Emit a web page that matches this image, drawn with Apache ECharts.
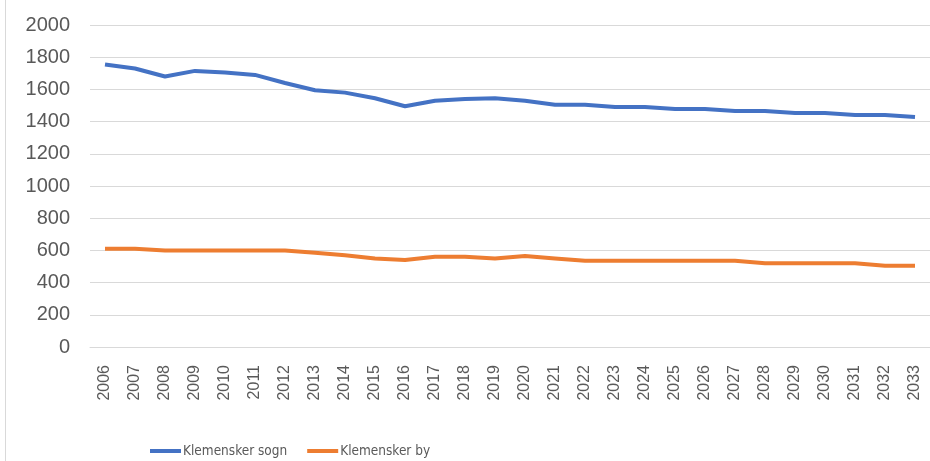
<!DOCTYPE html>
<html>
<head>
<meta charset="utf-8">
<script src="https://cdn.jsdelivr.net/npm/echarts@6/dist/echarts.min.js"></script>
<style>
  html, body { margin: 0; padding: 0; background: #fff; }
  #main { width: 930px; height: 461px; }
</style>
</head>
<body>
<div id="main"></div>
<script>
// data
var years = ['2006','2007','2008','2009','2010','2011','2012','2013','2014','2015',
    '2016','2017','2018','2019','2020','2021','2022','2023','2024','2025',
    '2026','2027','2028','2029','2030','2031','2032','2033'];
var sogn = [1755,1730,1680,1715,1705,1690,1640,1595,1580,1545,
    1495,1530,1540,1545,1530,1505,1505,1490,1490,1478,
    1478,1466,1466,1453,1453,1441,1441,1428];
var by = [610,610,600,600,600,600,600,585,570,550,
    540,560,560,550,565,550,535,535,535,535,
    535,535,520,520,520,520,505,505];

var fontName = "'Liberation Sans', sans-serif";
var txtColor = '#595959';

var myChart = echarts.init(document.getElementById('main'));
var option = {
    animation: false,
    backgroundColor: '#fff',
    textStyle: { fontFamily: fontName },
    graphic: [{
        type: 'line',
        shape: { x1: 5.5, y1: 0, x2: 5.5, y2: 461 },
        style: { stroke: '#d9d9d9', lineWidth: 1 }
    }],
    grid: { left: 90, top: 25, width: 845, bottom: 114 },
    legend: {
        top: 439,
        left: 145,
        icon: 'rect',
        itemWidth: 31,
        itemHeight: 4,
        itemGap: 20,
        textStyle: { color: txtColor, fontSize: 13.5, fontFamily: "'DejaVu Sans Condensed', " + fontName, padding: [0, 0, 0, -3] },
        data: ['Klemensker sogn', 'Klemensker by']
    },
    xAxis: {
        type: 'category',
        data: years,
        boundaryGap: true,
        axisLine: { lineStyle: { color: '#d9d9d9' } },
        axisTick: { show: false },
        axisLabel: { rotate: 90, color: txtColor, fontSize: 16, margin: 18, interval: 0, fontFamily: fontName }
    },
    yAxis: {
        type: 'value',
        min: 0,
        max: 2000,
        interval: 200,
        axisLine: { show: false },
        axisTick: { show: false },
        axisLabel: {
            color: txtColor, fontSize: 20, margin: 20, fontFamily: fontName,
            formatter: function (v) { return String(v); }
        },
        splitLine: { lineStyle: { color: '#d9d9d9', width: 1 } }
    },
    series: [
        {
            name: 'Klemensker sogn',
            type: 'line',
            data: sogn,
            symbol: 'none',
            itemStyle: { color: '#4472c4' },
            lineStyle: { color: '#4472c4', width: 4 }
        },
        {
            name: 'Klemensker by',
            type: 'line',
            data: by,
            symbol: 'none',
            itemStyle: { color: '#ed7d31' },
            lineStyle: { color: '#ed7d31', width: 4 }
        }
    ]
};
myChart.setOption(option);
</script>
</body>
</html>
